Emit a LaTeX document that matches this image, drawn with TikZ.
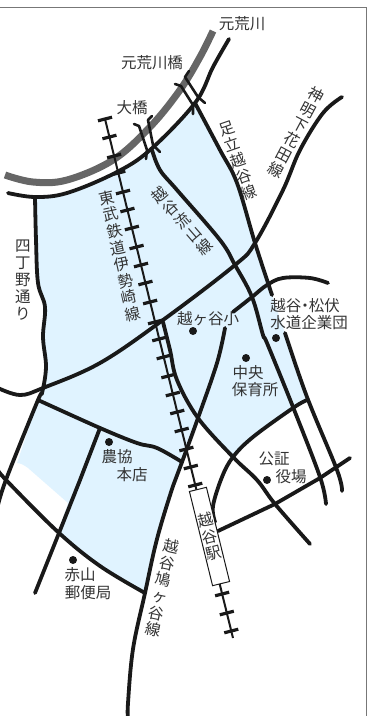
\documentclass[tikz,border=0pt]{standalone}
\usepackage{fontspec}
\setmainfont{Noto Sans CJK JP}
\definecolor{areablue}{HTML}{E0F3FF}
\definecolor{rivergray}{HTML}{666666}
\definecolor{labelgray}{HTML}{333333}
\definecolor{framegray}{HTML}{777777}
\tikzset{
  road/.style={draw=black!90,line width=3.8pt,line cap=round,line join=round},
  bridge/.style={draw=black!90,line width=2.6pt,line cap=round,line join=round},
  rail/.style={draw=black!90,line width=2pt},
  tie/.style={draw=black!90,line width=3.2pt},
  lbl/.style={inner sep=0pt,text=labelgray,align=center,font=\fontsize{15.5}{17}\selectfont},
  lblh/.style={inner sep=0pt,text=labelgray,font=\fontsize{15.5}{17}\selectfont},
  dotmark/.style={circle,fill=black!90,inner sep=0pt,minimum size=8pt},
}
\begin{document}
\begin{tikzpicture}[x=1pt,y=-1pt]
\useasboundingbox (0,0) rectangle (368,716);
% blue area
\fill[areablue] plot[smooth,tension=.6] coordinates{(35,197)(67,193)(115,173)(150,150)(195,103)}
  -- plot[smooth,tension=.6] coordinates{(195,103)(220,150)(237,183)(255,243)(272,295)(285,333)(307,397)}
  -- (293,408) -- (253,437) -- (233,457) -- (198,418)
  -- plot[smooth,tension=.6] coordinates{(198,418)(182,462)(173,486)(157,539)(145,593)}
  -- plot[smooth,tension=.6] coordinates{(145,593)(100,566)(58,532)}
  -- (68,503) -- (28,468) .. controls (24,465) and (20,463) .. (17,463)
  -- (38,400) -- plot[smooth,tension=.6] coordinates{(38,400)(46,367)(43,337)(45,307)(38,283)(36,240)(35,197)} -- cycle;
% frame
\draw[framegray,line width=1pt] (0,7.5) -- (366.5,7.5) -- (366.5,716);
% river
\draw[rivergray,line width=7pt] plot[smooth,tension=.6] coordinates{(213,31)(200,57)(180,90)(150,127)(113,160)(67,180)(33,182)(5,175)};
% railway
\draw[rail] (105,119) -- (233,638);
\foreach \ty in {119,137,156,173,192,210,228,247,265,283,302,322,339,357,376,394,412,430,449,467,485,594,613,631}{
  \draw[tie] ({105+(\ty-119)*0.2466-7},{\ty+1.8}) -- ({105+(\ty-119)*0.2466+7},{\ty-1.8});
}
% roads
\draw[road] plot[smooth,tension=.6] coordinates{(8,193)(35,197)(67,193)(115,173)(150,150)(195,103)(213,67)(229,39)};
\draw[road] plot[smooth,tension=.6] coordinates{(35,197)(36,240)(38,283)(45,307)(43,337)(46,367)(42,393)(38,400)(7,477)(-2,505)};
\draw[road] plot[smooth,tension=.6] coordinates{(195,103)(220,150)(237,183)(255,243)(272,295)};
\draw[road] plot[smooth,tension=.6] coordinates{(285,333)(307,397)(337,470)(342,491)};
\draw[road] plot[smooth,tension=.6] coordinates{(152,150)(160,170)(177,190)(220,240)(235,265)(252,297)(263,335)(267,343)(293,407)(320,477)(326,504)};
\draw[road] plot[smooth,tension=.6] coordinates{(342,97)(323,113)(300,150)(283,190)(255,243)(235,265)(163,320)(100,363)(43,388)(20,395)(-2,388)};
\draw[road] plot[smooth,tension=.6] coordinates{(38,400)(100,428)(137,443)(157,448)(182,462)};
\draw[road] (100,428) -- (80,480) -- (59,533) -- (35,593);
\draw[road] plot[smooth,tension=.6] coordinates{(328,283)(310,278)(283,278)(267,285)(252,297)(233,312)};
\draw[road] plot[smooth,tension=.6] coordinates{(225,328)(217,363)(198,418)(182,462)(173,486)(157,539)(145,593)(133,649)(128,703)(128,718)};
\draw[road] plot[smooth,tension=.6] coordinates{(-2,470)(7,481)(58,532)(100,566)(145,593)};
\draw[road] plot[smooth,tension=.6] coordinates{(163,322)(170,350)(177,380)(198,418)(233,457)(257,480)(275,504)(310,544)};
\draw[road] plot[smooth,tension=.6] coordinates{(307,400)(293,408)(253,437)(233,457)(222,477)(213,506)(215,522)};
\draw[road] (218,531) -- (275,504) -- (320,478) -- (350,458);
% bridges
\draw[bridge] (175,84) -- (181,86) -- (193,105) -- (193,114);
\draw[bridge] (189,71) -- (185,77) -- (198,97) -- (205,103);
\draw[bridge] (134,124) -- (139,126) -- (147,150) -- (146,159);
\draw[bridge] (152,116) -- (148,120) -- (153,145) -- (160,152);
% station
\node[draw=black!90,fill=white,line width=1pt,rotate=13.8,minimum width=17.5pt,minimum height=97pt,inner sep=0pt,align=center,font=\fontsize{15.5}{17}\selectfont,text=labelgray] (station) at (209.5,536.5) {越\\谷\\駅};
% dots
\node[dotmark] (d1) at (193,331) {};
\node[dotmark] (d2) at (246,358) {};
\node[dotmark] (d3) at (276,338) {};
\node[dotmark] (d4) at (109,442) {};
\node[dotmark] (d5) at (267,480) {};
\node[dotmark] (d6) at (73,560) {};
% labels
\node[lblh] (l1) at (242,24) {元荒川};
\node[lblh] (l2) at (152,63) {元荒川橋};
\node[lblh] (l3) at (132,108) {大橋};
\node[lbl,rotate=19] (l4) at (238,161) {足\\立\\越\\谷\\線};
\node[lbl,rotate=-28] (l5) at (296,132) {神\\明\\下\\花\\田\\線};
\node[lbl,rotate=12.5] (l6) at (120,256) {東\\武\\鉄\\道\\伊\\勢\\崎\\線};
\node[lbl,rotate=41] (l7) at (182,221) {越\\谷\\流\\山\\線};
\node[lbl] (l8) at (23,280) {四\\丁\\野\\通\\り};
\node[lblh] (l9) at (208,319) {越ヶ谷小};
\node[lblh] (l10) at (305,306) {越谷\hspace{-4pt}・\hspace{-4pt}松伏};
\node[lblh] (l11) at (309,323) {水道企業団};
\node[lblh] (l12) at (248,373) {中央};
\node[lblh] (l13) at (255,390) {保育所};
\node[lblh] (l14) at (117,457) {農協};
\node[lblh] (l15) at (132,475) {本店};
\node[lblh] (l16) at (274,459) {公証};
\node[lblh] (l17) at (291,477) {役場};
\node[lblh] (l18) at (80,575) {赤山};
\node[lblh] (l19) at (88,593) {郵便局};
\node[lbl,rotate=-12] (l20) at (162,588) {越\\谷\\鳩\\ヶ\\谷\\線};
\end{tikzpicture}
\end{document}
